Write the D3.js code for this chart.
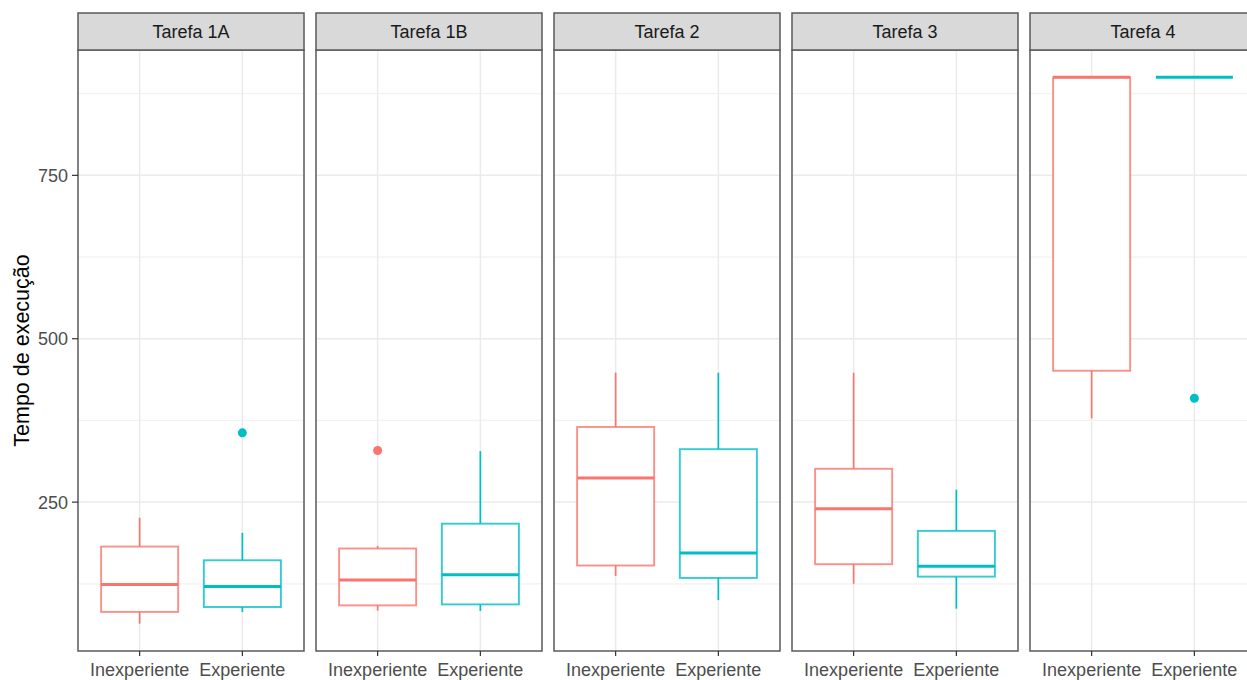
<!DOCTYPE html>
<html>
<head>
<meta charset="utf-8">
<script src="https://cdn.jsdelivr.net/npm/d3@7"></script>
<style>
  html, body { margin: 0; padding: 0; background: #ffffff; }
  svg { display: block; font-family: "Liberation Sans", Arial, sans-serif; }
</style>
</head>
<body>
<svg id="chart" width="1247" height="680"></svg>
<script>
// Facet panels (one per task) and the two experience groups on the x axis
const tasks = ["Tarefa 1A", "Tarefa 1B", "Tarefa 2", "Tarefa 3", "Tarefa 4"];
const groups = ["Inexperiente", "Experiente"];
const groupColors = ["#F8766D", "#00BFC4"];

// Box statistics per task: [lower whisker, Q1, median, Q3, upper whisker]
const statsInexperiente = [
  [64, 82, 124, 182, 226],
  [84, 92, 131, 179, 183],
  [137, 153, 287, 365, 448],
  [125, 155, 240, 301, 448],
  [378, 451, 900, 900, 900]
];
const statsExperiente = [
  [82, 89.5, 121, 161, 203],
  [83.5, 93.5, 139, 217, 328],
  [100, 134, 172, 331, 448],
  [87, 136, 152, 206, 269],
  [900, 900, 900, 900, 900]
];

// Outlying observations per task
const outliersInexperiente = [[], [329], [], [], []];
const outliersExperiente = [[356], [], [], [], [409]];

// Y axis ticks
const yMajorTicks = [250, 500, 750];
const yMinorTicks = [125, 375, 625, 875];
const yTitle = "Tempo de execução";

// ---- layout ----
const svg = d3.select("#chart");
const panelLeft0 = 78, panelWidth = 226, panelGap = 12;
const stripTop = 13, panelTop = 50, panelBottom = 651;

const allStats = statsInexperiente.concat(statsExperiente);
const allOut = outliersInexperiente.concat(outliersExperiente).flat();
const dataMin = d3.min(allStats.flat().concat(allOut));
const dataMax = d3.max(allStats.flat().concat(allOut));
const pad = (dataMax - dataMin) * 0.05;

const y = d3.scaleLinear()
  .domain([dataMin - pad, dataMax + pad])
  .range([panelBottom, panelTop]);

// discrete x positions with a 0.6 unit expansion on each side
const xUnit = d3.scaleLinear().domain([0.4, 2.6]).range([0, panelWidth]);
const boxHalf = xUnit(1.375) - xUnit(1);

const textDark = "#1A1A1A", textAxis = "#4D4D4D", borderCol = "#595959";
const fontSize = 18;

tasks.forEach((task, i) => {
  const left = panelLeft0 + i * (panelWidth + panelGap);
  const g = svg.append("g").attr("transform", `translate(${left},0)`);

  // panel background
  g.append("rect").attr("x", 0).attr("y", panelTop)
    .attr("width", panelWidth).attr("height", panelBottom - panelTop)
    .attr("fill", "#ffffff");

  // minor grid
  g.selectAll(".minor").data(yMinorTicks).join("line")
    .attr("x1", 0).attr("x2", panelWidth)
    .attr("y1", d => y(d)).attr("y2", d => y(d))
    .attr("stroke", "#F2F2F2").attr("stroke-width", 1.2);
  // major grid
  g.selectAll(".major").data(yMajorTicks).join("line")
    .attr("x1", 0).attr("x2", panelWidth)
    .attr("y1", d => y(d)).attr("y2", d => y(d))
    .attr("stroke", "#EBEBEB").attr("stroke-width", 1.5);
  g.selectAll(".vmajor").data(groups).join("line")
    .attr("x1", (d, j) => xUnit(j + 1)).attr("x2", (d, j) => xUnit(j + 1))
    .attr("y1", panelTop).attr("y2", panelBottom)
    .attr("stroke", "#EBEBEB").attr("stroke-width", 1.5);

  // boxes
  const sets = [
    { s: statsInexperiente[i], o: outliersInexperiente[i] },
    { s: statsExperiente[i], o: outliersExperiente[i] }
  ];
  sets.forEach((set, j) => {
    const cx = xUnit(j + 1);
    const col = groupColors[j];
    const [lo, q1, med, q3, hi] = set.s;
    const bg = g.append("g");
    // whiskers
    bg.append("line").attr("x1", cx).attr("x2", cx)
      .attr("y1", y(hi)).attr("y2", y(q3))
      .attr("stroke", col).attr("stroke-width", 1.7);
    bg.append("line").attr("x1", cx).attr("x2", cx)
      .attr("y1", y(q1)).attr("y2", y(lo))
      .attr("stroke", col).attr("stroke-width", 1.7);
    // box
    bg.append("rect")
      .attr("x", cx - boxHalf).attr("width", boxHalf * 2)
      .attr("y", y(q3)).attr("height", Math.max(0, y(q1) - y(q3)))
      .attr("fill", "#ffffff").attr("stroke", col)
      .attr("stroke-opacity", 0.8).attr("stroke-width", 1.9);
    // median
    bg.append("line")
      .attr("x1", cx - boxHalf).attr("x2", cx + boxHalf)
      .attr("y1", y(med)).attr("y2", y(med))
      .attr("stroke", col).attr("stroke-width", 3);
    // outliers
    bg.selectAll("circle").data(set.o).join("circle")
      .attr("cx", cx).attr("cy", d => y(d)).attr("r", 4.5)
      .attr("fill", col);
  });

  // panel border
  g.append("rect").attr("x", 0).attr("y", panelTop)
    .attr("width", panelWidth).attr("height", panelBottom - panelTop)
    .attr("fill", "none").attr("stroke", borderCol).attr("stroke-width", 1.5);

  // strip
  g.append("rect").attr("x", 0).attr("y", stripTop)
    .attr("width", panelWidth).attr("height", panelTop - stripTop)
    .attr("fill", "#D9D9D9").attr("stroke", borderCol).attr("stroke-width", 1.5);
  g.append("text").attr("x", panelWidth / 2).attr("y", 38)
    .attr("text-anchor", "middle").attr("font-size", fontSize)
    .attr("fill", textDark).text(task);

  // x axis ticks and labels
  groups.forEach((grp, j) => {
    const cx = xUnit(j + 1);
    g.append("line").attr("x1", cx).attr("x2", cx)
      .attr("y1", panelBottom).attr("y2", panelBottom + 5)
      .attr("stroke", "#333333").attr("stroke-width", 1.2);
    g.append("text").attr("x", cx).attr("y", 676)
      .attr("text-anchor", "middle").attr("font-size", fontSize)
      .attr("fill", textAxis).text(grp);
  });
});

// y axis on the first panel
const yAxisG = svg.append("g");
yMajorTicks.forEach(t => {
  yAxisG.append("line").attr("x1", panelLeft0 - 6).attr("x2", panelLeft0)
    .attr("y1", y(t)).attr("y2", y(t))
    .attr("stroke", "#333333").attr("stroke-width", 1.2);
  yAxisG.append("text").attr("x", panelLeft0 - 10).attr("y", y(t))
    .attr("dy", "0.36em").attr("text-anchor", "end")
    .attr("font-size", fontSize).attr("fill", textAxis).text(t);
});

// y axis title
svg.append("text")
  .attr("transform", `translate(29,${(panelTop + panelBottom) / 2}) rotate(-90)`)
  .attr("text-anchor", "middle").attr("font-size", 21.5)
  .attr("fill", "#000000").text(yTitle);
</script>
</body>
</html>
